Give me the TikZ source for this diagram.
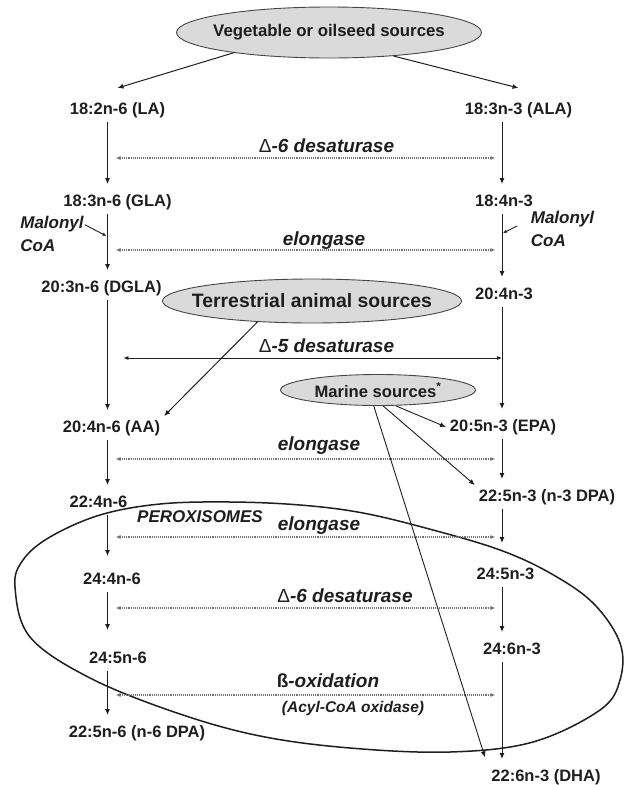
\documentclass[tikz,border=0pt]{standalone}
\usepackage{fontspec}
\setmainfont{Liberation Sans}
\usetikzlibrary{arrows.meta, shapes.geometric}
\definecolor{ink}{RGB}{30,30,30}
\definecolor{srcgray}{RGB}{218,218,218}
\definecolor{srcline}{RGB}{70,70,70}
\definecolor{dotgray}{RGB}{115,115,115}

\tikzset{
  acid/.style={font=\fontsize{16.5}{19}\selectfont\bfseries, text=ink, inner sep=1pt, outer sep=3pt, text height=12pt, text depth=4pt},
  enzyme/.style={font=\fontsize{19}{22}\selectfont\bfseries\itshape, text=ink, inner sep=1pt, text height=14pt, text depth=4pt},
  source/.style={ellipse, draw=srcline, line width=0.9pt, fill=srcgray, inner sep=0pt, text=ink},
  conv/.style={ink, line width=1pt, -{Latex[length=6pt,width=5pt]}},
  enzarrow/.style={dotgray, line width=1.1pt, densely dotted, {Latex[length=5pt,width=4pt]}-{Latex[length=5pt,width=4pt]}},
}

\begin{document}
\begin{tikzpicture}[x=1pt, y=-1pt]
  \useasboundingbox (0,0) rectangle (624,785);

  % peroxisome outline (drawn first)
  \draw[ink, line width=1.5pt] plot[smooth cycle, tension=0.6] coordinates {
    (15,587) (30,637) (90,678) (177,713) (260,736) (350,748) (450,752)
    (533,742) (600,710) (620,680) (620,643) (593,603) (550,573) (500,550)
    (433,530) (363,513) (300,505) (230,502) (160,504) (100,515) (50,537) (23,560)};
  \node[font=\fontsize{17}{19}\selectfont\bfseries\itshape, text=ink] (perox) at (200,517) {PEROXISOMES};

  % columns
  \coordinate (colL) at (107.5,0);
  \coordinate (colR) at (502,0);

  % sources
  \node[source, minimum width=305pt, minimum height=51pt, font=\fontsize{16.8}{19}\selectfont\bfseries]
    (veg) at (329,32.5) {\makebox[0pt]{Vegetable or oilseed sources}};
  \node[source, minimum width=299pt, minimum height=44pt, font=\fontsize{19.4}{22}\selectfont\bfseries]
    (terr) at (312,301) {\makebox[0pt]{Terrestrial animal sources}};
  \node[source, minimum width=195pt, minimum height=31pt, font=\fontsize{16.6}{19}\selectfont\bfseries]
    (marine) at (378,390) {\makebox[0pt]{Marine sources\textsuperscript{*}}};

  % n-6 series
  \node[acid] (la)   at (117.5,110) {18:2n-6 (LA)};
  \node[acid] (gla)  at (117.5,202) {18:3n-6 (GLA)};
  \node[acid] (dgla) at (101.5,288) {20:3n-6 (DGLA)};
  \node[acid] (aa)   at (111.5,428) {20:4n-6 (AA)};
  \node[acid] (c224) at (98.5,503)  {22:4n-6};
  \node[acid] (c244) at (112,580)   {24:4n-6};
  \node[acid] (c245) at (118,659)   {24:5n-6};
  \node[acid] (dpa6) at (137,733)   {22:5n-6 (n-6 DPA)};

  % n-3 series
  \node[acid] (ala)  at (518.5,110) {18:3n-3 (ALA)};
  \node[acid] (s184) at (504,202)   {18:4n-3};
  \node[acid] (s204) at (504,295)   {20:4n-3};
  \node[acid] (epa)  at (503,427)   {20:5n-3 (EPA)};
  \node[acid] (dpa3) at (547,497)   {22:5n-3 (n-3 DPA)};
  \node[acid] (s245) at (505.5,575) {24:5n-3};
  \node[acid] (s246) at (512,650)   {24:6n-3};
  \node[acid] (dha)  at (546,777)   {22:6n-3 (DHA)};

  % conversion steps
  \foreach \a/\b/\s in {la/gla/6, gla/dgla/6, dgla/aa/6, aa/c224/6, c224/c244/12, c244/c245/17, c245/dpa6/6}
    \draw[conv, shorten >=\s pt] (\a.south -| colL) -- (\b.north -| colL);
  \foreach \a/\b/\s in {ala/s184/6, s184/s204/6, s204/epa/6, epa/dpa3/6, dpa3/s245/20, s245/s246/6, s246/dha/6}
    \draw[conv, shorten >=\s pt] (\a.south -| colR) -- (\b.north -| colR);

  % enzymes
  \node[enzyme] (d6a)  at (326.5,147) {{\mdseries\upshape Δ}-6 desaturase};
  \node[enzyme] (eloa) at (324,240)   {elongase};
  \node[enzyme] (d5)   at (326.5,347) {{\mdseries\upshape Δ}-5 desaturase};
  \node[enzyme] (elob) at (319,445)   {elongase};
  \node[enzyme] (eloc) at (319,525)   {elongase};
  \node[enzyme] (d6b)  at (345,597)   {{\mdseries\upshape Δ}-6 desaturase};
  \node[enzyme] (box)  at (328,682)   {{\upshape ß}-oxidation};
  \node[enzyme, font=\fontsize{15.5}{18}\selectfont\bfseries\itshape] (acyl) at (353,707) {(Acyl-CoA oxidase)};

  \foreach \r/\y in {d6a/158, eloa/250, elob/459, eloc/537, d6b/608, box/695} {
    \coordinate (\r L) at (115.5,\y);
    \coordinate (\r R) at (495.5,\y);
    \draw[enzarrow] (\r L) -- (\r R);
  }
  \coordinate (d5L) at (123.4,358);
  \coordinate (d5R) at (502,358);
  \draw[ink, line width=0.8pt, {Latex[length=5pt,width=4pt]}-{Latex[length=5pt,width=4pt]}] (d5L) -- (d5R);

  % malonyl CoA
  \node[font=\fontsize{17}{23}\selectfont\bfseries\itshape, text=ink, align=left, inner sep=1pt]
    (malL) at (52,233.5) {Malonyl\\CoA};
  \node[font=\fontsize{17}{23}\selectfont\bfseries\itshape, text=ink, align=left, inner sep=1pt]
    (malR) at (562.5,228.5) {Malonyl\\CoA};
  \coordinate (malLtip) at (106.5,236);
  \coordinate (malRtip) at (503,233);
  \draw[ink, line width=0.9pt, -{Latex[length=4pt,width=3.5pt]}] (malL.15) -- (malLtip);
  \draw[ink, line width=0.9pt, -{Latex[length=4pt,width=3.5pt]}, shorten <=14pt] (malR.165) -- (malRtip);

  % dietary sources
  \draw[conv] (veg.192) -- ([yshift=10pt]la.north);
  \draw[conv] (veg.-20) -- ([yshift=10pt]ala.north);
  \draw[conv] (terr.201) -- (aa.north east);
  \draw[conv, line width=0.9pt] (marine.-42) -- (epa.west);
  \draw[conv, line width=0.9pt] (marine.-72) -- (dpa3.north west);
  \draw[conv, line width=0.9pt, shorten >=8pt] (marine.-105) -- (dha.north west);
\end{tikzpicture}
\end{document}
